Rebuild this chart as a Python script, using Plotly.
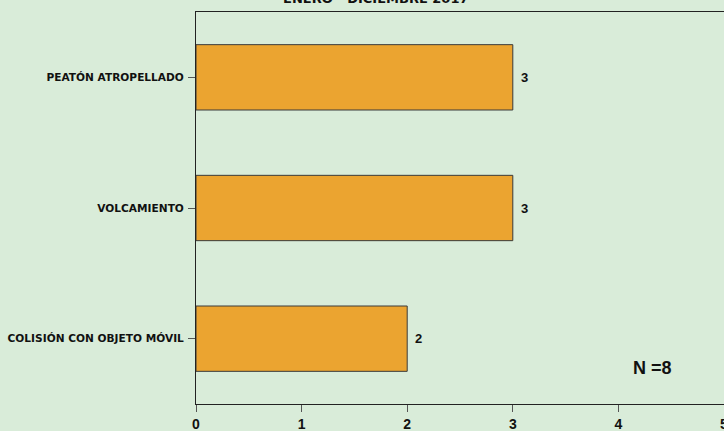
import plotly.graph_objects as go

categories = ["COLISIÓN CON OBJETO MÓVIL", "VOLCAMIENTO", "PEATÓN ATROPELLADO"]
values = [2, 3, 3]
x_ticks = [0, 1, 2, 3, 4, 5]
title_text = "ENERO - DICIEMBRE 2017"
n_text = "N =8"

FONT = "Liberation Sans, Arial, sans-serif"
WIDE = "DejaVu Sans, Verdana, sans-serif"
BG = "#D9ECD9"

fig = go.Figure(go.Bar(
    y=categories, x=values, orientation="h",
    marker=dict(color="#EBA430", line=dict(color="#3a3a3a", width=1)),
    width=0.5, hoverinfo="skip",
))

annotations = [
    dict(text=str(v), x=v, y=c, xref="x", yref="y", xanchor="left", yanchor="middle",
         xshift=6, showarrow=False,
         font=dict(family=FONT, size=13, weight="bold", color="#111"))
    for c, v in zip(categories, values)
]
annotations += [
    dict(text=title_text, xref="paper", yref="paper", x=0.34, y=1, yshift=14,
         xanchor="center", yanchor="middle", showarrow=False,
         font=dict(family=WIDE, size=13, weight="bold", color="#111")),
    dict(text=n_text, xref="x", yref="paper", x=4.32, y=0.092,
         xanchor="center", yanchor="middle", showarrow=False,
         font=dict(family=FONT, size=18, weight="bold", color="#111")),
]

fig.update_layout(
    width=724, height=431,
    margin=dict(l=196, r=0, t=12, b=27, autoexpand=False),
    paper_bgcolor=BG, plot_bgcolor=BG,
    showlegend=False,
    font=dict(family=FONT, color="#111"),
    xaxis=dict(range=[0, 5], tickvals=x_ticks, showgrid=False, zeroline=False,
               showline=True, linecolor="#222", linewidth=1, mirror=True,
               ticks="outside", ticklen=7, tickcolor="#555",
               ticklabeloverflow="allow", automargin=False,
               tickfont=dict(family=FONT, size=14, weight="bold", color="#111")),
    yaxis=dict(categoryorder="array", categoryarray=categories, range=[-0.5, 2.5],
               showgrid=False, zeroline=False, automargin=False,
               showline=True, linecolor="#222", linewidth=1, mirror=True,
               ticks="outside", ticklen=7, tickcolor="#555", ticklabelstandoff=2,
               tickfont=dict(family=WIDE, size=10.6, weight="bold", color="#111")),
    annotations=annotations,
)

fig.write_html("out.html", config={"displayModeBar": False},
               post_script="document.body.style.margin='0';")
